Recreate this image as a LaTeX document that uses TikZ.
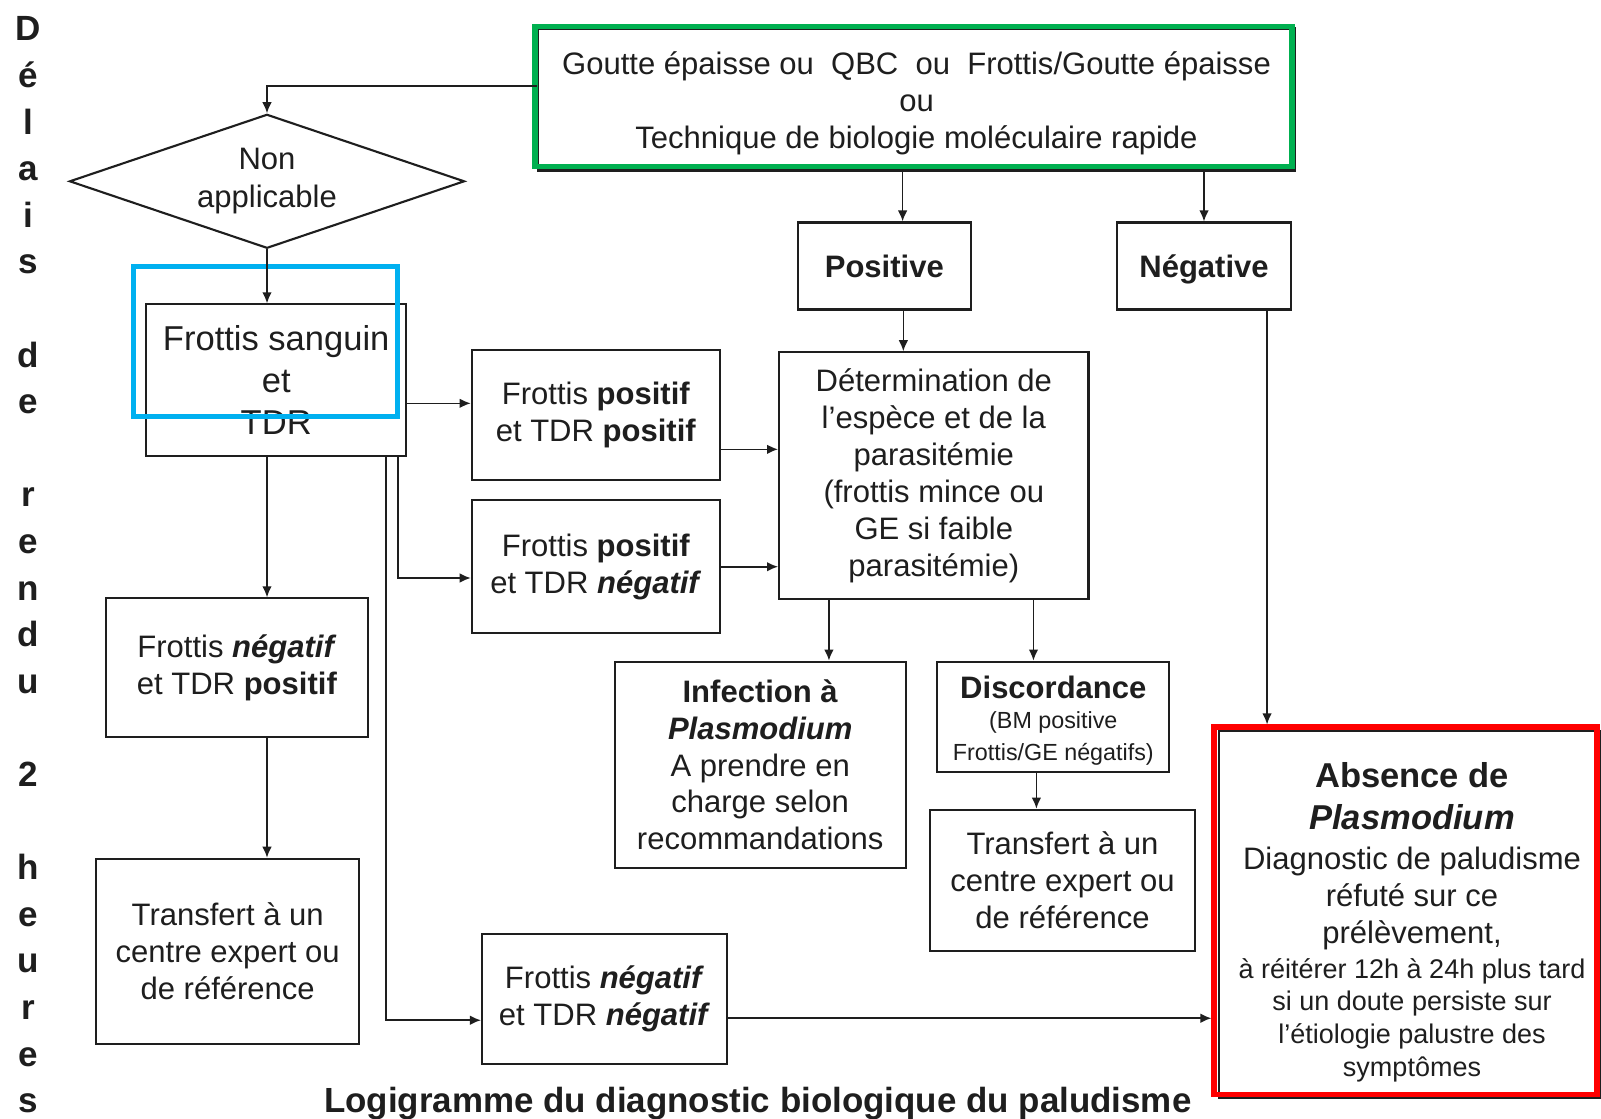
\documentclass[tikz,border=0pt]{standalone}
\usepackage{fontspec}
\setmainfont{Liberation Sans}
\usetikzlibrary{arrows.meta,shapes.geometric}
\newcommand\fsz[2]{\fontsize{#1}{#2}\selectfont}
\definecolor{hlgreen}{RGB}{0,176,80}
\definecolor{hlblue}{RGB}{0,176,240}
\definecolor{hlred}{RGB}{255,0,0}
\definecolor{ink}{RGB}{30,30,30}
\tikzset{
  box/.style={draw=ink, line width=0.6pt, rectangle, inner sep=0pt, align=center, text=ink, font=\fsz{8.82}{10.47}},
  sz/.style 2 args={minimum width=#1*0.01cm, minimum height=#2*0.01cm},
  hl/.style={draw=#1, line width=1.45pt, rectangle, inner sep=0pt},
  arr/.style={-{Latex[length=1.1mm,width=0.95mm]}, line width=0.45pt, draw=ink},
  letter/.style={font=\bfseries\fsz{9.96}{12}, text=ink, anchor=base, inner sep=0pt},
  txt/.style={inner sep=0pt, align=center, text=ink}
}
\begin{document}
\begin{tikzpicture}[x=0.01cm,y=-0.01cm]
\useasboundingbox[fill=white] (0,0) rectangle (1601,1118);

% left vertical text
\foreach \c/\k in {D/0,é/1,l/2,a/3,i/4,s/5,d/7,e/8,r/10,e/11,n/12,d/13,u/14,2/16,h/18,e/19,u/20,r/21,e/22,s/23}
  \node[letter] (L\k) at (28.6,40.8+46.6*\k) {\c};

% boxes
\node[box, sz={757}{142}] (top) at (916.5,99.5) {};
\node[txt, font=\fsz{8.82}{10.47}] (topT) at (916.5,103) {Goutte épaisse ou\ \ QBC\ \ ou\ \ Frottis/Goutte épaisse\\ou\\Technique de biologie moléculaire rapide};
\node[hl=hlgreen, sz={757}{140}] (topG) at (913.5,96.5) {};

\node[diamond, draw=ink, line width=0.6pt, aspect=2.95, sz={395}{134}, inner sep=0pt, align=center, text=ink, font=\fsz{8.82}{10.8}] (na) at (267,181.3) {Non\\applicable};

\node[box, sz={260}{152}, font=\fsz{9.82}{11.95}] (fs) at (276.2,380.4) {Frottis sanguin\\et\\TDR};
\node[hl=hlblue, sz={263.4}{150.1}] (fsB) at (265.5,341.6) {};

\node[box, sz={173.5}{87}, text height=8.8pt, text depth=2pt] (pos) at (884.3,266) {\bfseries Positive};
\node[box, sz={173.5}{87}, text height=8.8pt, text depth=2pt] (neg) at (1204,266) {\bfseries Négative};

\node[box, sz={248}{130}] (fpp) at (595.8,415) {Frottis \textbf{positif}\\et TDR \textbf{positif}};
\node[box, sz={248}{133}] (fpn) at (595.8,566.7) {Frottis \textbf{positif}\\et TDR \textbf{\textit{négatif}}};
\node[box, sz={309.4}{247}] (det) at (933.8,475.8) {Détermination de\\l’espèce et de la\\parasitémie\\(frottis mince ou\\GE si faible\\parasitémie)};
\node[box, sz={261.4}{138.8}] (fnp) at (236.9,667.8) {Frottis \textbf{\textit{négatif}}\\et TDR \textbf{positif}};
\node[box, sz={263.4}{184.9}] (trL) at (227.7,951.2) {Transfert à un\\centre expert ou\\de référence};
\node[box, sz={245}{129.7}] (fnn) at (604.5,999.2) {Frottis \textbf{\textit{négatif}}\\et TDR \textbf{\textit{négatif}}};
\node[box, sz={291}{206.3}] (inf) at (760.2,764.8) {\textbf{Infection à}\\\textbf{\textit{Plasmodium}}\\A prendre en\\charge selon\\recommandations};
\node[box, sz={231.8}{110.3}] (dis) at (1053.3,716.8) {};
\node[txt, font=\fsz{8.82}{9.3}] (disT) at (1053.3,721) {\textbf{Discordance}\\[-1pt]{\fsz{6.63}{9.3}(BM positive}\\{\fsz{6.63}{9.3}Frottis/GE négatifs)}};
\node[box, sz={264.5}{140.9}] (trR) at (1062.5,880.2) {Transfert à un\\centre expert ou\\de référence};

\node[box, sz={381}{367}] (abs) at (1409.5,914.5) {};
\node[txt, font=\fsz{8.82}{9.3}] (absT) at (1412,922) {{\fsz{9.82}{11}\bfseries Absence de}\\[2.65pt]{\fsz{9.82}{11}\bfseries\itshape Plasmodium}\\[2.1pt]Diagnostic de paludisme\\[1.2pt]réfuté sur ce\\[1.2pt]prélèvement,\\[0.6pt]{\fsz{7.68}{9.3}à réitérer 12h à 24h plus tard}\\{\fsz{7.68}{9.3}si un doute persiste sur}\\{\fsz{7.68}{9.3}l’étiologie palustre des}\\{\fsz{7.68}{9.3}symptômes}};
\node[hl=hlred, sz={383}{367.6}] (absR) at (1405.5,910.8) {};

\node[font=\bfseries\fsz{9.93}{12}, text=ink, anchor=base, inner sep=0pt] (title) at (757.7,1112) {Logigramme du diagnostic biologique du paludisme};

% connectors
\coordinate (t1) at ([yshift=0.137cm]top.west);
\draw[arr] (t1) -| (na.north);
\draw[arr] (na.south) -- (na.south |- fs.north);

\coordinate (pN) at ([xshift=0.183cm]pos.north);
\draw[arr] (pN |- top.south) -- (pN);
\draw[arr] (neg.north |- top.south) -- (neg.north);

\coordinate (f1) at ([yshift=-0.229cm]fs.east);
\draw[arr] (f1) -- (f1 -| fpp.west);
\coordinate (f2) at ([xshift=1.22cm]fs.south);
\coordinate (f2e) at ([yshift=-0.113cm]fpn.west);
\draw[arr] (f2) |- (f2e);
\coordinate (f3) at ([xshift=1.098cm]fs.south);
\coordinate (c1) at ([yshift=-0.21cm]fnn.west);
\draw[arr] (f3) |- (c1);

\draw[arr] (na.south |- fs.south) -- (na.south |- fnp.north);
\draw[arr] (na.south |- fnp.south) -- (na.south |- trL.north);

\coordinate (p1) at ([yshift=-0.343cm]fpp.east);
\draw[arr] (p1) -- (p1 -| det.west);
\draw[arr] (fpn.east) -- (fpn.east -| det.west);

\coordinate (pS) at ([xshift=0.19cm]pos.south);
\draw[arr] (pS) -- (pS |- det.north);
\coordinate (nS) at ([xshift=0.63cm]neg.south);
\draw[arr] (nS) -- (nS |- absR.north);

\coordinate (d1) at ([xshift=-1.048cm]det.south);
\draw[arr] (d1) -- (d1 |- inf.north);
\coordinate (d2) at ([xshift=0.996cm]det.south);
\draw[arr] (d2) -- (d2 |- dis.north);
\coordinate (d3) at ([xshift=-0.169cm]dis.south);
\draw[arr] (d3) -- (d3 |- trR.north);

\coordinate (c2) at ([yshift=-0.19cm]fnn.east);
\draw[arr] (c2) -- (c2 -| absR.west);
\end{tikzpicture}
\end{document}
